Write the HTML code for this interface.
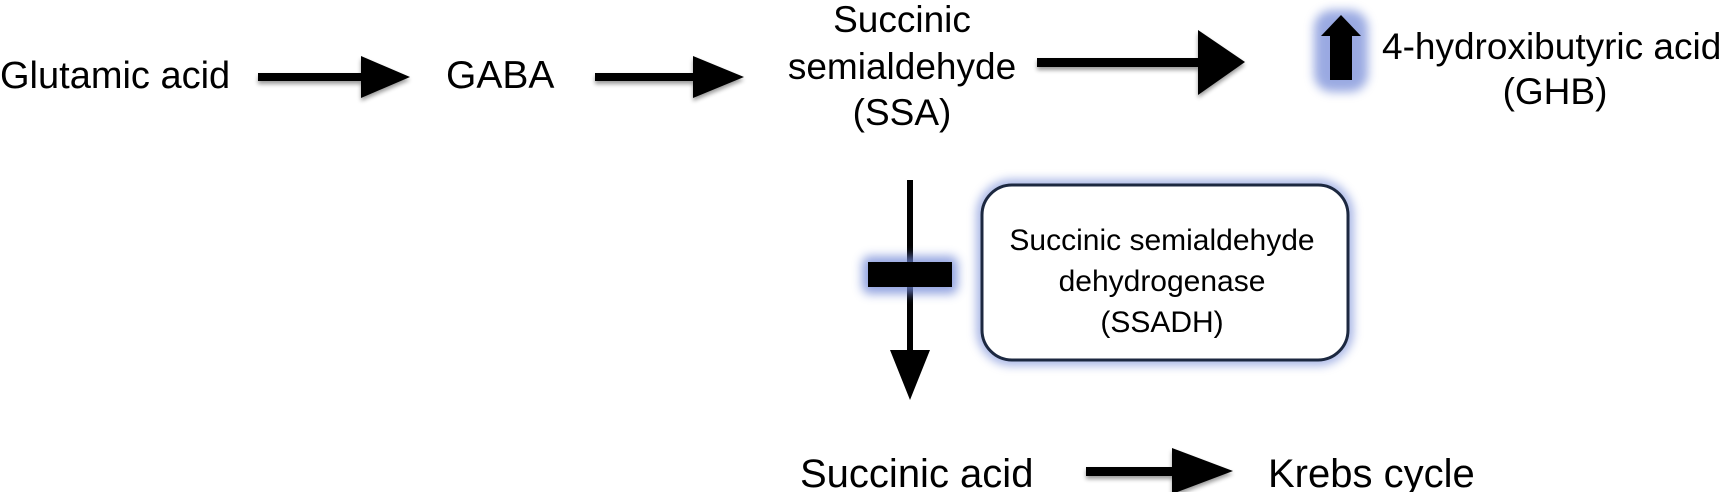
<!DOCTYPE html>
<html><head><meta charset="utf-8"><style>
html,body{margin:0;padding:0;background:#fff;}
svg{display:block;}
text{font-family:"Liberation Sans",Arial,sans-serif;fill:#000;}
</style></head><body>
<svg width="1729" height="492" viewBox="0 0 1729 492" xmlns="http://www.w3.org/2000/svg">
<defs>
<filter id="glow" x="-50%" y="-50%" width="200%" height="200%">
<feGaussianBlur stdDeviation="5"/>
</filter>
<filter id="sh" x="-20%" y="-20%" width="140%" height="160%">
<feGaussianBlur in="SourceAlpha" stdDeviation="2"/><feOffset dx="0" dy="3"/>
<feComponentTransfer><feFuncA type="linear" slope="0.4"/></feComponentTransfer>
<feMerge><feMergeNode/><feMergeNode in="SourceGraphic"/></feMerge>
</filter>
</defs>
<!-- top row text -->
<text x="0" y="88" font-size="38">Glutamic acid</text>
<text x="446" y="88" font-size="39">GABA</text>
<text x="902" y="32" font-size="37" text-anchor="middle">Succinic</text>
<text x="902" y="79" font-size="37" text-anchor="middle">semialdehyde</text>
<text x="902" y="125" font-size="37" text-anchor="middle">(SSA)</text>
<text x="1382" y="59" font-size="37">4-hydroxibutyric acid</text>
<text x="1555" y="104" font-size="37" text-anchor="middle">(GHB)</text>

<!-- arrows -->
<g filter="url(#sh)">
<rect x="258" y="73" width="108" height="8" fill="#000"/>
<polygon points="361,56 410,77 361,98" fill="#000"/>
<rect x="595" y="73" width="102" height="8" fill="#000"/>
<polygon points="693,56 744,77 693,98" fill="#000"/>
<rect x="1037" y="58" width="166" height="9" fill="#000"/>
<polygon points="1198,30 1245,62 1198,95" fill="#000"/>
<rect x="1086" y="467" width="90" height="9" fill="#000"/>
<polygon points="1172,448 1233,471 1172,494" fill="#000"/>
</g>

<!-- up arrow with glow -->
<rect x="1314" y="10" width="54" height="82" rx="18" fill="#6f86d6" opacity="0.7" filter="url(#glow)"/>
<polygon points="1341,15 1361,36 1352,36 1352,80 1330,80 1330,36 1321,36" fill="#000"/>

<!-- vertical arrow -->
<rect x="907" y="180" width="6" height="180" fill="#000"/>
<polygon points="890,350 930,350 910,400" fill="#000"/>
<rect x="862" y="256" width="96" height="38" rx="8" fill="#6f86d6" opacity="0.75" filter="url(#glow)"/>
<rect x="868" y="262" width="84" height="25" fill="#000"/>

<!-- enzyme box -->
<rect x="982" y="185" width="366" height="175" rx="30" fill="none" stroke="#6f86d6" stroke-width="10" opacity="0.7" filter="url(#glow)"/>
<rect x="982" y="185" width="366" height="175" rx="30" fill="#fff" stroke="#1c2840" stroke-width="3"/>
<text x="1162" y="250" font-size="30" text-anchor="middle">Succinic semialdehyde</text>
<text x="1162" y="291" font-size="30" text-anchor="middle">dehydrogenase</text>
<text x="1162" y="332" font-size="30" text-anchor="middle">(SSADH)</text>

<!-- bottom row -->
<text x="800" y="487" font-size="40">Succinic acid</text>
<text x="1268" y="487" font-size="40">Krebs cycle</text>
</svg>
</body></html>
